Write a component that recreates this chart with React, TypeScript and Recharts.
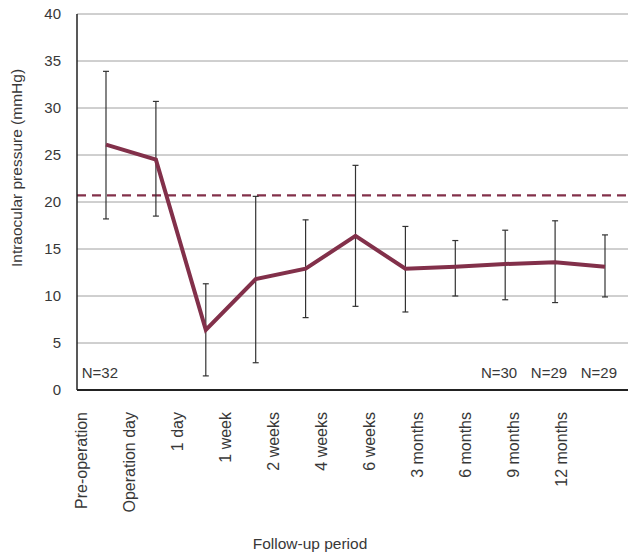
import { CartesianGrid, ErrorBar, LabelList, Line, LineChart, ReferenceLine, XAxis, YAxis } from 'recharts';

const periods = [
  'Pre-operation',
  'Operation day',
  '1 day',
  '1 week',
  '2 weeks',
  '4 weeks',
  '6 weeks',
  '3 months',
  '6 months',
  '9 months',
  '12 months',
];
const meanIop = [26.1, 24.5, 6.4, 11.8, 12.9, 16.4, 12.9, 13.1, 13.4, 13.6, 13.1];
const lowerIop = [18.2, 18.5, 1.5, 2.9, 7.7, 8.9, 8.3, 10.0, 9.6, 9.3, 9.9];
const upperIop = [33.9, 30.7, 11.3, 20.6, 18.1, 23.9, 17.4, 15.9, 17.0, 18.0, 16.5];
const sampleN = [32, null, null, null, null, null, null, null, 30, 29, 29];
const normalLimit = 20.7;
const yTicks = [0, 5, 10, 15, 20, 25, 30, 35, 40];

const FONT = '"Liberation Sans", Arial, sans-serif';
const INK = '#383838';
const MAROON = '#82304a';
const PLOT_BOTTOM = 390;

const data = periods.map((period, i) => ({
  period,
  mean: meanIop[i],
  err: [meanIop[i] - lowerIop[i], upperIop[i] - meanIop[i]],
  n: sampleN[i],
}));

function PeriodTick({ x, y, payload }: any) {
  return (
    <text
      x={x + 5}
      y={y + 14}
      transform={`rotate(-90, ${x + 5}, ${y + 14})`}
      textAnchor="end"
      fontSize={16}
      fontFamily={FONT}
      fill={INK}
    >
      {payload.value}
    </text>
  );
}

function NLabel({ x, value }: any) {
  if (value == null) return null;
  return (
    <text x={x + 12} y={PLOT_BOTTOM - 12} textAnchor="end" fontSize={15} fontFamily={FONT} fill={INK}>
      {`N=${value}`}
    </text>
  );
}

function YTitle() {
  return (
    <text
      x={22}
      y={168}
      transform="rotate(-90, 22, 168)"
      textAnchor="middle"
      fontSize={15.5}
      fontFamily={FONT}
      fill={INK}
    >
      Intraocular pressure (mmHg)
    </text>
  );
}

function XTitle() {
  return (
    <text x={310} y={549} textAnchor="middle" fontSize={15.5} fontFamily={FONT} fill={INK}>
      Follow-up period
    </text>
  );
}

export default function App() {
  return (
    <div style={{ position: 'absolute', left: 0, top: 0, background: '#fff' }}>
      <LineChart width={628} height={556} data={data} margin={{ top: 14, right: 0, bottom: 0, left: 0 }}>
        <CartesianGrid xAxisId="pts" vertical={false} stroke="#a0a0a0" strokeWidth={1} />
        <XAxis xAxisId="pts" dataKey="period" hide padding={{ left: 29, right: 23 }} />
        <XAxis
          xAxisId="labels"
          dataKey="period"
          height={166}
          padding={{ left: 5, right: 66 }}
          interval={0}
          tickLine={false}
          axisLine={{ stroke: '#222', strokeWidth: 2 }}
          tick={<PeriodTick />}
          label={<XTitle />}
        />
        <YAxis
          width={77}
          domain={[0, 40]}
          ticks={yTicks}
          tickLine={false}
          tickMargin={10}
          axisLine={{ stroke: '#222', strokeWidth: 1.5 }}
          tick={{ fontSize: 15, fill: INK, fontFamily: FONT }}
          label={<YTitle />}
        />
        <ReferenceLine
          xAxisId="pts"
          y={normalLimit}
          stroke={MAROON}
          strokeWidth={2.2}
          strokeDasharray="9 6"
        />
        <Line
          xAxisId="pts"
          dataKey="mean"
          stroke={MAROON}
          strokeWidth={4}
          dot={false}
          isAnimationActive={false}
        >
          <ErrorBar dataKey="err" width={3} stroke="#333" strokeWidth={1.2} />
          <LabelList dataKey="n" content={<NLabel />} />
        </Line>
      </LineChart>
    </div>
  );
}
